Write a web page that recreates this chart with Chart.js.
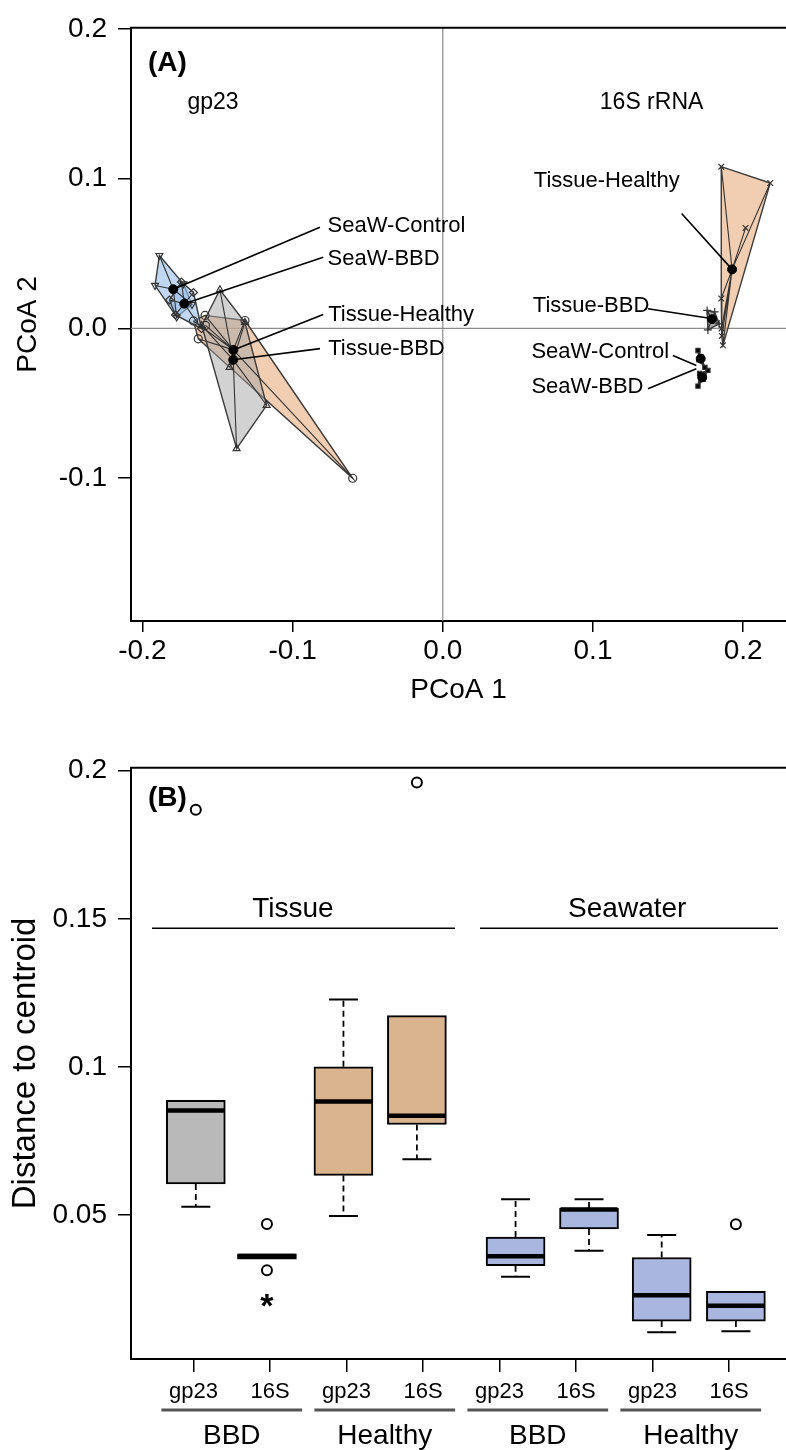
<!DOCTYPE html>
<html>
<head>
<meta charset="utf-8">
<script src="https://cdn.jsdelivr.net/npm/chart.js@4.4.1/dist/chart.umd.min.js"></script>
<style>
  html, body { margin: 0; padding: 0; background: #fff; }
  #wrap { position: relative; width: 786px; height: 1450px; overflow: hidden; }
  canvas { position: absolute; left: 0; }
  #pcoa { top: 0; }
  #disp { top: 740px; }
</style>
</head>
<body>
<div id="wrap">
  <canvas id="pcoa" width="786" height="740"></canvas>
  <canvas id="disp" width="786" height="710"></canvas>
</div>
<script>
const FONT = '"Liberation Sans", Arial, Helvetica, sans-serif';

// ---------- (A) PCoA coordinates, [PCoA 1, PCoA 2] per sample ----------
const gp23TissueHealthy = [[-0.1583, 0.0087], [-0.1317, 0.0053], [-0.06, -0.1], [-0.1628, -0.0069], [-0.158, 0.002], [-0.166, 0.005]];
const gp23TissueBBD = [[-0.1484, 0.0258], [-0.1373, -0.0802], [-0.1173, -0.0513], [-0.1605, 0.002], [-0.1317, 0.004], [-0.142, -0.026]];
const gp23SeaWControl = [[-0.1887, 0.0487], [-0.1916, 0.0287], [-0.1727, 0.0298], [-0.1772, 0.0076], [-0.167, 0.016]];
const gp23SeaWBBD = [[-0.174, 0.031], [-0.1606, -0.0002], [-0.178, 0.009], [-0.166, 0.024], [-0.182, 0.019]];
const s16TissueHealthy = [[0.1854, 0.108], [0.218, 0.0971], [0.1865, -0.0113], [0.2016, 0.0671], [0.1854, 0.02], [0.1856, 0.0], [0.1858, -0.005]];
const s16TissueBBD = [[0.176, 0.012], [0.1765, -0.001], [0.181, 0.011], [0.184, 0.003], [0.179, 0.006]];
const s16SeaWControl = [[0.1699, -0.0147], [0.1705, -0.021], [0.1745, -0.026], [0.172, -0.019]];
const s16SeaWBBD = [[0.171, -0.03], [0.1765, -0.028], [0.1699, -0.0385], [0.1735, -0.034]];

const xTicksA = [-0.2, -0.1, 0.0, 0.1, 0.2];
const yTicksA = [-0.1, 0.0, 0.1, 0.2];

// ---------- (B) distance to centroid, one box per marker/condition ----------
const tickPosB = [1, 2, 3, 4, 5, 6, 7, 8];
const markerLabels = ['gp23', '16S', 'gp23', '16S', 'gp23', '16S', 'gp23', '16S'];
const boxPos = [1.03, 1.96, 2.96, 3.92, 5.21, 6.17, 7.12, 8.09];
const whiskLow = [0.0527, 0.035, 0.0496, 0.0688, 0.0291, 0.0379, 0.0103, 0.0107];
const q1 = [0.0604, 0.035, 0.0633, 0.0805, 0.0328, 0.0452, 0.0141, 0.0141];
const median = [0.0852, 0.0361, 0.0883, 0.0835, 0.036, 0.0518, 0.0228, 0.0193];
const q3 = [0.0887, 0.0368, 0.1, 0.1173, 0.0425, 0.0523, 0.0356, 0.0242];
const whiskHigh = [0.0887, 0.0368, 0.1227, 0.1173, 0.0553, 0.0553, 0.0432, 0.0242];
const outliers = [[0.1868], [0.0469, 0.0313], [], [0.196], [], [], [], [0.0468]];
const yTicksB = [0.05, 0.1, 0.15, 0.2];
const yTickLabelsB = ['0.05', '0.1', '0.15', '0.2'];
const conditionLabels = ['BBD', 'Healthy', 'BBD', 'Healthy'];
const habitatLabels = ['Tissue', 'Seawater'];

// colours
const TAN = 'rgba(232,176,130,0.62)';
const GREY = 'rgba(165,165,165,0.5)';
const BLUE = 'rgba(150,190,232,0.6)';
const boxFill = ['#b9b9b9', '#b9b9b9', '#d9b48f', '#d9b48f', '#a9b7e0', '#a9b7e0', '#a9b7e0', '#a9b7e0'];

const xy = p => ({ x: p[0], y: p[1] });
const gap = { x: null, y: null };

function centroid(pts) {
  const n = pts.length;
  return [pts.reduce((s, p) => s + p[0], 0) / n, pts.reduce((s, p) => s + p[1], 0) / n];
}

// convex hull (monotone chain)
function hull(pts) {
  const p = pts.slice().sort((a, b) => a[0] - b[0] || a[1] - b[1]);
  const cross = (o, a, b) => (a[0] - o[0]) * (b[1] - o[1]) - (a[1] - o[1]) * (b[0] - o[0]);
  const lower = [], upper = [];
  for (const q of p) {
    while (lower.length >= 2 && cross(lower[lower.length - 2], lower[lower.length - 1], q) <= 0) lower.pop();
    lower.push(q);
  }
  for (const q of p.slice().reverse()) {
    while (upper.length >= 2 && cross(upper[upper.length - 2], upper[upper.length - 1], q) <= 0) upper.pop();
    upper.push(q);
  }
  upper.pop(); lower.pop();
  return lower.concat(upper);
}

const groupsA = [
  { pts: gp23TissueHealthy, fill: TAN, style: 'circle', rot: 0, solid: false },
  { pts: gp23TissueBBD, fill: GREY, style: 'triangle', rot: 0, solid: false },
  { pts: gp23SeaWControl, fill: BLUE, style: 'triangle', rot: 180, solid: false },
  { pts: gp23SeaWBBD, fill: BLUE, style: 'rectRot', rot: 0, solid: false },
  { pts: s16TissueHealthy, fill: TAN, style: 'crossRot', rot: 0, solid: false },
  { pts: s16TissueBBD, fill: 'rgba(120,120,120,0.6)', style: 'cross', rot: 0, solid: false },
  { pts: s16SeaWControl, fill: 'rgba(0,0,0,0.8)', style: 'rect', rot: 0, solid: true },
  { pts: s16SeaWBBD, fill: 'rgba(0,0,0,0.8)', style: 'rect', rot: 0, solid: true }
];

const datasetsA = [];
groupsA.forEach((g, i) => {
  const h = hull(g.pts);
  const c = centroid(g.pts);
  datasetsA.push({
    data: h.concat([h[0]]).map(xy), showLine: true, fill: 'shape',
    backgroundColor: g.fill, borderColor: '#3a3a3a', borderWidth: 1.4,
    pointRadius: 0, tension: 0, order: 100 - i
  });
  datasetsA.push({
    data: g.pts.flatMap(p => [xy(c), xy(p), gap]), showLine: true, spanGaps: false,
    borderColor: '#333', borderWidth: 1.1, pointRadius: 0, order: 50 - i
  });
  datasetsA.push({
    data: g.pts.map(xy), pointStyle: g.style, rotation: g.rot, pointRadius: g.solid ? 3 : 4,
    borderColor: '#333', backgroundColor: g.solid ? '#000' : 'rgba(255,255,255,0)', borderWidth: 1.2, order: 20
  });
  datasetsA.push({
    data: [xy(c)], pointStyle: 'circle', pointRadius: 4.5,
    borderColor: '#000', backgroundColor: '#000', borderWidth: 1, order: 0
  });
});

// label text, leader line start and end in data units
const labelsA = [
  { text: 'SeaW-Control', at: [-0.0767, 0.0687], align: 'left', from: [-0.0818, 0.0675], to: centroid(gp23SeaWControl) },
  { text: 'SeaW-BBD', at: [-0.0767, 0.0465], align: 'left', from: [-0.0796, 0.0475], to: centroid(gp23SeaWBBD) },
  { text: 'Tissue-Healthy', at: [-0.0763, 0.0087], align: 'left', from: [-0.0796, 0.0093], to: centroid(gp23TissueHealthy) },
  { text: 'Tissue-BBD', at: [-0.0763, -0.0135], align: 'left', from: [-0.0818, -0.0135], to: centroid(gp23TissueBBD) },
  { text: 'Tissue-Healthy', at: [0.1577, 0.0987], align: 'right', from: [0.159, 0.0767], to: centroid(s16TissueHealthy) },
  { text: 'Tissue-BBD', at: [0.0599, 0.0153], align: 'left', from: [0.1366, 0.0131], to: [0.1798, 0.0065] },
  { text: 'SeaW-Control', at: [0.059, -0.0158], align: 'left', from: [0.1532, -0.018], to: [0.1688, -0.0247] },
  { text: 'SeaW-BBD', at: [0.059, -0.0391], align: 'left', from: [0.1366, -0.0402], to: [0.1688, -0.0269] }
];
const headingsA = [
  { text: 'gp23', at: [-0.153, 0.1507] },
  { text: '16S rRNA', at: [0.139, 0.1507] }
];

const pcoaDecor = {
  id: 'pcoaDecor',
  beforeDatasetsDraw(chart) {
    const { ctx, chartArea: a, scales: { x, y } } = chart;
    ctx.save();
    ctx.strokeStyle = '#8a8a8a';
    ctx.lineWidth = 1.2;
    ctx.beginPath();
    ctx.moveTo(x.getPixelForValue(0), a.top);
    ctx.lineTo(x.getPixelForValue(0), a.bottom);
    ctx.moveTo(a.left, y.getPixelForValue(0));
    ctx.lineTo(a.right, y.getPixelForValue(0));
    ctx.stroke();
    ctx.restore();
  },
  afterDatasetsDraw(chart) {
    const { ctx, chartArea: a, scales: { x, y } } = chart;
    const px = p => [x.getPixelForValue(p[0]), y.getPixelForValue(p[1])];
    ctx.save();
    ctx.fillStyle = '#000';
    ctx.strokeStyle = '#000';
    ctx.lineWidth = 1.6;
    ctx.textBaseline = 'middle';
    ctx.font = '22px ' + FONT;
    labelsA.forEach(l => {
      const f = px(l.from), t = px(l.to), p = px(l.at);
      ctx.beginPath();
      ctx.moveTo(f[0], f[1]);
      ctx.lineTo(t[0], t[1]);
      ctx.stroke();
      ctx.textAlign = l.align;
      ctx.fillText(l.text, p[0], p[1]);
    });
    ctx.font = '23px ' + FONT;
    ctx.textAlign = 'center';
    headingsA.forEach(h => {
      const p = px(h.at);
      ctx.fillText(h.text, p[0], p[1]);
    });
    ctx.font = 'bold 28px ' + FONT;
    ctx.textAlign = 'left';
    ctx.fillText('(A)', a.left + 17, a.top + 35);
    // top side of the frame
    ctx.lineWidth = 2;
    ctx.beginPath();
    ctx.moveTo(a.left - 1, a.top);
    ctx.lineTo(a.right, a.top);
    ctx.stroke();
    ctx.restore();
  }
};

const tickFont = { family: FONT, size: 28 };
const titleFont = { family: FONT, size: 28 };

new Chart(document.getElementById('pcoa'), {
  type: 'scatter',
  data: { datasets: datasetsA },
  options: {
    responsive: false,
    animation: false,
    devicePixelRatio: 1,
    layout: { autoPadding: false, padding: { top: 27, left: 0, right: 0, bottom: 0 } },
    plugins: { legend: { display: false }, tooltip: { enabled: false } },
    scales: {
      x: {
        type: 'linear', min: -0.2076, max: 0.2285,
        afterBuildTicks: s => { s.ticks = xTicksA.map(v => ({ value: v })); },
        afterFit: s => { s.height = 119; },
        ticks: { font: tickFont, color: '#000', padding: 2, maxRotation: 0, callback: v => v.toFixed(1) },
        grid: { drawOnChartArea: false, drawTicks: true, tickLength: 11, color: '#000', lineWidth: 1.5 },
        border: { display: true, color: '#000', width: 2 },
        title: { display: true, text: 'PCoA 1', font: titleFont, color: '#000', padding: { top: 0, bottom: 33 } }
      },
      y: {
        type: 'linear', min: -0.1953, max: 0.2007,
        afterBuildTicks: s => { s.ticks = yTicksA.map(v => ({ value: v })); },
        afterFit: s => { s.width = 131; },
        ticks: { font: tickFont, color: '#000', padding: 11, callback: v => v.toFixed(1) },
        grid: { drawOnChartArea: false, drawTicks: true, tickLength: 13, color: '#000', lineWidth: 1.5 },
        border: { display: true, color: '#000', width: 2 },
        title: { display: true, text: 'PCoA 2', font: titleFont, color: '#000', padding: { top: 11, bottom: 0 } }
      }
    }
  },
  plugins: [pcoaDecor]
});

// ---------- (B) box plots ----------
const whiskerSegs = [];
boxPos.forEach((x, i) => {
  if (whiskHigh[i] > q3[i]) whiskerSegs.push({ x, y: q3[i] }, { x, y: whiskHigh[i] }, gap);
  if (whiskLow[i] < q1[i]) whiskerSegs.push({ x, y: q1[i] }, { x, y: whiskLow[i] }, gap);
});
const caps = [];
boxPos.forEach((x, i) => {
  if (whiskHigh[i] > q3[i]) caps.push({ x, y: whiskHigh[i] });
  if (whiskLow[i] < q1[i]) caps.push({ x, y: whiskLow[i] });
});
const outlierPts = boxPos.flatMap((x, i) => outliers[i].map(v => ({ x, y: v })));

const dispDecor = {
  id: 'dispDecor',
  afterDatasetsDraw(chart) {
    const { ctx, chartArea: a, scales: { x, y } } = chart;
    ctx.save();
    ctx.fillStyle = '#000';
    ctx.strokeStyle = '#000';
    // habitat brackets
    ctx.lineWidth = 1.5;
    const lineY = y.getPixelForValue(0.1468);
    [[0.458, 4.418], [4.745, 8.64]].forEach(r => {
      ctx.beginPath();
      ctx.moveTo(x.getPixelForValue(r[0]), lineY);
      ctx.lineTo(x.getPixelForValue(r[1]), lineY);
      ctx.stroke();
    });
    ctx.font = '28px ' + FONT;
    ctx.textAlign = 'center';
    ctx.textBaseline = 'middle';
    ctx.fillText(habitatLabels[0], x.getPixelForValue(2.3), y.getPixelForValue(0.1533));
    ctx.fillText(habitatLabels[1], x.getPixelForValue(6.67), y.getPixelForValue(0.1533));
    // significance mark under the 16S BBD tissue box
    ctx.font = 'bold 34px ' + FONT;
    ctx.fillText('*', x.getPixelForValue(boxPos[1]), y.getPixelForValue(0.0185));
    ctx.font = 'bold 28px ' + FONT;
    ctx.textAlign = 'left';
    ctx.fillText('(B)', a.left + 17, a.top + 30);
    // top side of the frame
    ctx.lineWidth = 2;
    ctx.beginPath();
    ctx.moveTo(a.left - 1, a.top);
    ctx.lineTo(a.right, a.top);
    ctx.stroke();
    ctx.restore();
  },
  afterDraw(chart) {
    const { ctx, chartArea: a, scales: { x } } = chart;
    ctx.save();
    ctx.strokeStyle = '#555';
    ctx.lineWidth = 3;
    ctx.fillStyle = '#000';
    ctx.font = '28px ' + FONT;
    ctx.textAlign = 'center';
    ctx.textBaseline = 'middle';
    conditionLabels.forEach((t, k) => {
      const c = 1.5 + 2 * k;
      ctx.beginPath();
      ctx.moveTo(x.getPixelForValue(c - 0.92), a.bottom + 51);
      ctx.lineTo(x.getPixelForValue(c + 0.92), a.bottom + 51);
      ctx.stroke();
      ctx.fillText(t, x.getPixelForValue(c), a.bottom + 77);
    });
    ctx.restore();
  }
};

new Chart(document.getElementById('disp'), {
  type: 'bar',
  data: {
    datasets: [
      {
        type: 'bar', data: boxPos.map((x, i) => ({ x, y: [q1[i], q3[i]] })),
        backgroundColor: boxFill, borderColor: '#000', borderWidth: 2, borderSkipped: false,
        barThickness: 59, order: 5
      },
      {
        type: 'line', data: whiskerSegs, borderColor: '#000', borderWidth: 1.8, borderDash: [6, 4],
        pointRadius: 0, spanGaps: false, fill: false, order: 4
      },
      {
        type: 'scatter', data: caps, pointStyle: 'line', pointRadius: 14.5,
        borderColor: '#000', borderWidth: 2, order: 3
      },
      {
        type: 'scatter', data: boxPos.map((x, i) => ({ x, y: median[i] })), pointStyle: 'line',
        pointRadius: 28.5, borderColor: '#000', borderWidth: 4.5, order: 1
      },
      {
        type: 'scatter', data: outlierPts, pointStyle: 'circle', pointRadius: 5,
        borderColor: '#000', backgroundColor: '#fff', borderWidth: 2, order: 0
      }
    ]
  },
  options: {
    responsive: false,
    animation: false,
    devicePixelRatio: 1,
    layout: { autoPadding: false, padding: { top: 26, left: 0, right: 0, bottom: 0 } },
    plugins: { legend: { display: false }, tooltip: { enabled: false } },
    scales: {
      x: {
        type: 'linear', min: 0.183, max: 8.745, offset: false,
        afterBuildTicks: s => { s.ticks = tickPosB.map(v => ({ value: v })); },
        afterFit: s => { s.height = 91; },
        ticks: {
          font: { family: FONT, size: 22 }, color: '#000', padding: 7, maxRotation: 0, autoSkip: false,
          callback: (v, i) => markerLabels[i]
        },
        grid: { offset: false, drawOnChartArea: false, drawTicks: true, tickLength: 13, color: '#000', lineWidth: 1.5 },
        border: { display: true, color: '#000', width: 2 }
      },
      y: {
        type: 'linear', min: 0.0013, max: 0.201, beginAtZero: false,
        afterBuildTicks: s => { s.ticks = yTicksB.map(v => ({ value: v })); },
        afterFit: s => { s.width = 131; },
        ticks: { font: tickFont, color: '#000', padding: 11, callback: (v, i) => yTickLabelsB[i] },
        grid: { drawOnChartArea: false, drawTicks: true, tickLength: 13, color: '#000', lineWidth: 1.5 },
        border: { display: true, color: '#000', width: 2 },
        title: { display: true, text: 'Distance to centroid', font: { family: FONT, size: 33 }, color: '#000', padding: { top: 6, bottom: 0 } }
      }
    }
  },
  plugins: [dispDecor]
});
</script>
</body>
</html>
